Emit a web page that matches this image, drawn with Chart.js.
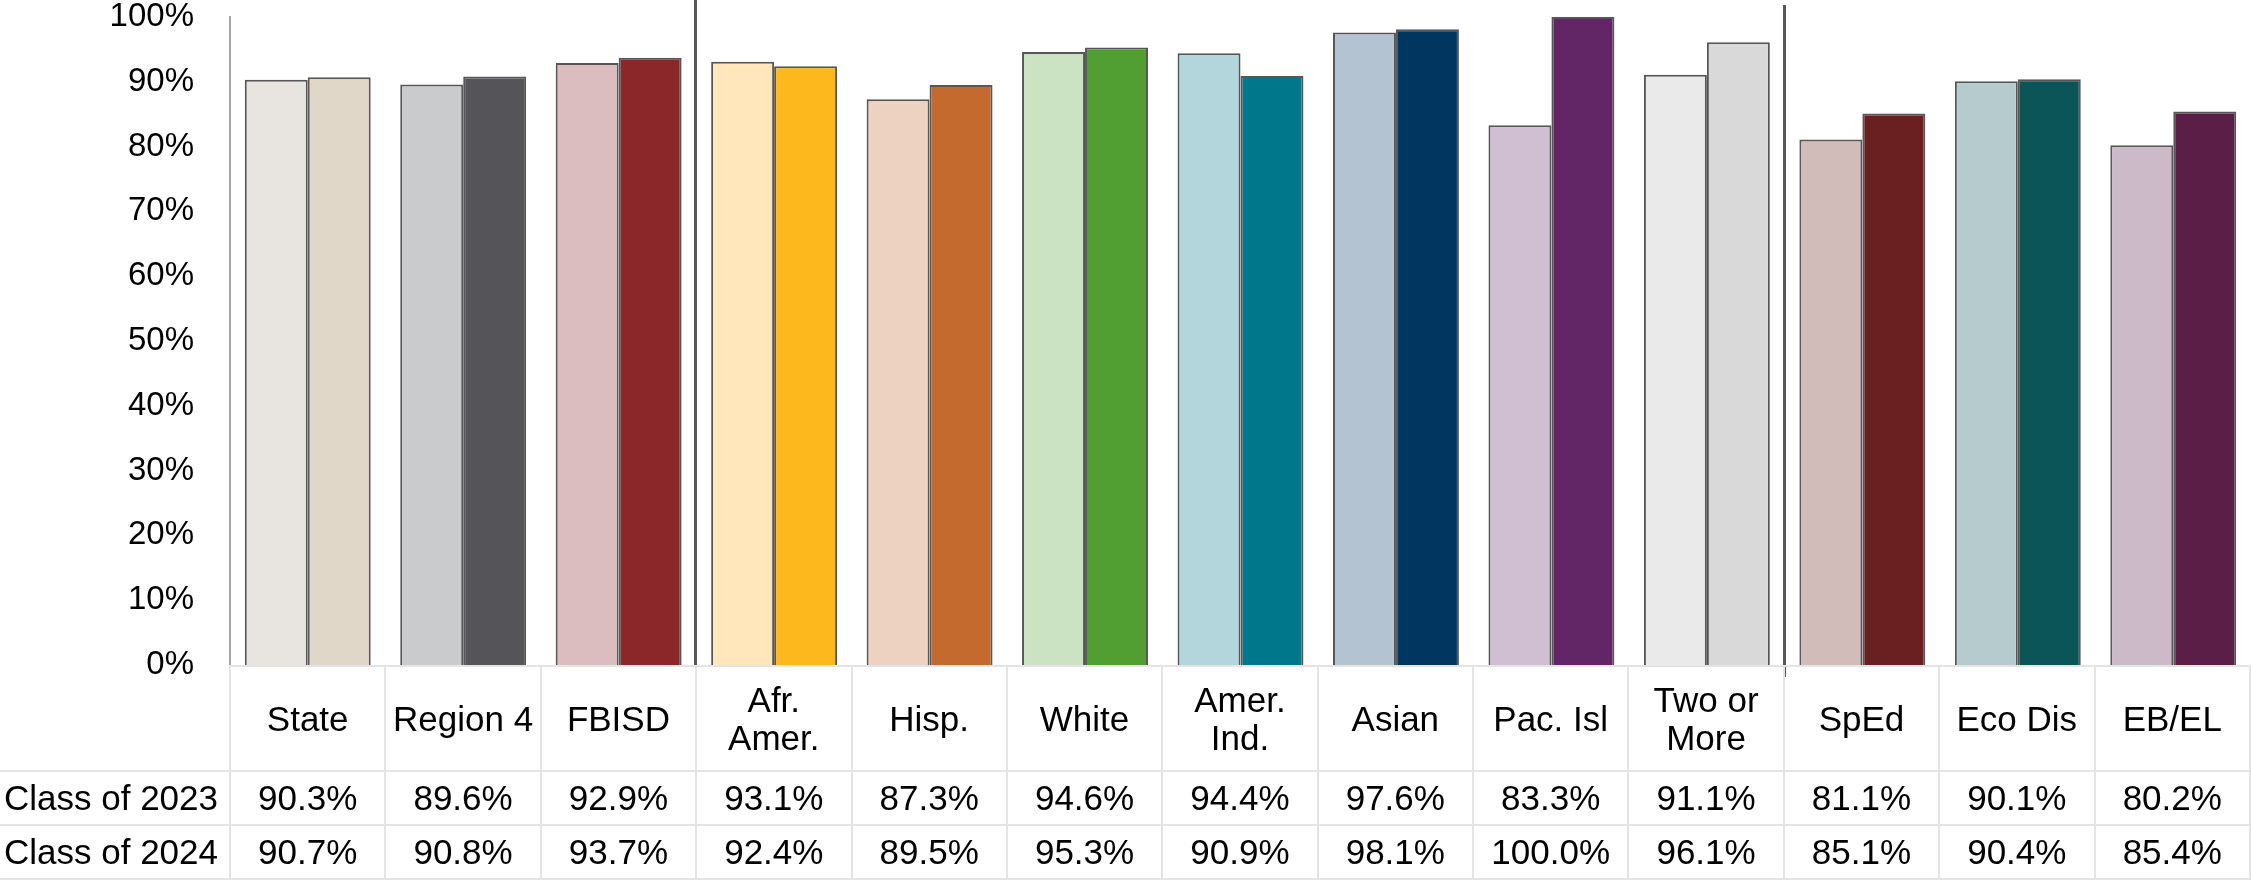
<!DOCTYPE html>
<html>
<head>
<meta charset="utf-8">
<script src="https://cdn.jsdelivr.net/npm/chart.js@4.4.1/dist/chart.umd.min.js"></script>
<style>
    html, body { margin: 0; padding: 0; background: #fff; }
    #wrap { position: relative; width: 2251px; height: 880px; overflow: hidden; }
    #sales { position: absolute; left: 0; top: 0; }
    #tbl {
        position: absolute; left: 0; top: 665px; width: 2251px;
        border-collapse: collapse; table-layout: fixed;
        font-family: 'Liberation Sans', Arial, sans-serif; font-size: 35px; color: #000;
    }
    #tbl td { border: 2px solid #e4e4e4; text-align: center; padding: 0; white-space: nowrap; line-height: 1.08; }
    #tbl tr.head td { height: 103px; }
    #tbl tr.row td { height: 52px; }
    #tbl tr.head td.corner { border-top: none; border-left: none; }
    #tbl td.lbl { text-align: left; padding-left: 4px; border-left: none; }
</style>
</head>
<body>
<div id="wrap">
    <canvas id="sales" width="2251" height="880"></canvas>
    <table id="tbl"></table>
</div>
<script>
// data
var groups = ['State', 'Region 4', 'FBISD', ['Afr.', 'Amer.'], 'Hisp.', 'White', ['Amer.', 'Ind.'], 'Asian', 'Pac. Isl', ['Two or', 'More'], 'SpEd', 'Eco Dis', 'EB/EL'];
var class2023 = [90.3, 89.6, 92.9, 93.1, 87.3, 94.6, 94.4, 97.6, 83.3, 91.1, 81.1, 90.1, 80.2];
var class2024 = [90.7, 90.8, 93.7, 92.4, 89.5, 95.3, 90.9, 98.1, 100.0, 96.1, 85.1, 90.4, 85.4];
var yTicks = [0, 10, 20, 30, 40, 50, 60, 70, 80, 90, 100];

var colors2023 = ['#e8e5e0', '#cacbcd', '#dbbdbf', '#ffe7bb', '#edd2c2', '#cbe2c3', '#b3d6dc', '#b3c3d2', '#d0bfd2', '#eaeaea', '#d2bcba', '#b6cbcd', '#cdbac8'];
var colors2024 = ['#e0d7c8', '#555459', '#8b2729', '#fdb81e', '#c46a2f', '#519e33', '#00778a', '#013660', '#622565', '#d9d9d9', '#6a1f20', '#0b5458', '#5b1e47'];

// separator lines between groups: [before index, top y, bottom y]
var separators = [[3, 0, 665], [10, 5, 677]];

var sepPlugin = {
    id: 'sepPlugin',
    afterDatasetsDraw: function(chart) {
        var x = chart.scales.x, ctx = chart.ctx;
        ctx.save();
        ctx.strokeStyle = '#58585b';
        ctx.lineWidth = 3;
        separators.forEach(function(s) {
            var px = Math.round((x.getPixelForValue(s[0] - 1) + x.getPixelForValue(s[0])) / 2) - 0.5;
            ctx.beginPath();
            ctx.moveTo(px, s[1]);
            ctx.lineTo(px, s[2]);
            ctx.stroke();
        });
        ctx.restore();
    }
};

var ctx = document.getElementById('sales').getContext('2d');
var chart = new Chart(ctx, {
    type: 'bar',
    data: {
        labels: groups.map(function(g) { return Array.isArray(g) ? g.join(' ') : g; }),
        datasets: [
            { label: 'Class of 2023', data: class2023, backgroundColor: colors2023, borderColor: '#575757', borderWidth: 2 },
            { label: 'Class of 2024', data: class2024, backgroundColor: colors2024, borderColor: '#575757', borderWidth: 2 }
        ]
    },
    options: {
        responsive: false,
        animation: false,
        devicePixelRatio: 1,
        layout: { padding: { top: 0, bottom: 215, left: 0, right: 0 } },
        plugins: { legend: { display: false }, tooltip: { enabled: false } },
        datasets: { bar: { categoryPercentage: 0.81, barPercentage: 1 } },
        scales: {
            x: { display: false },
            y: {
                min: 0, max: 100,
                afterFit: function(s) { s.width = 230; s.paddingTop = 17; s.paddingBottom = 0; },
                afterBuildTicks: function(s) { s.ticks = yTicks.map(function(v) { return { value: v }; }); },
                grid: { display: false, drawTicks: false },
                border: { display: true, color: '#a6a6a6', width: 2 },
                ticks: {
                    padding: 36,
                    color: '#000',
                    font: { family: "'Liberation Sans', Arial, sans-serif", size: 33, lineHeight: 1 },
                    callback: function(v) { return v + '%'; }
                }
            }
        }
    },
    plugins: [sepPlugin]
});

// data table under the chart
var tbl = document.getElementById('tbl');
var html = '<colgroup><col style="width:230px">';
groups.forEach(function() { html += '<col>'; });
html += '</colgroup>';
html += '<tr class="head"><td class="corner"></td>';
groups.forEach(function(g) {
    html += '<td>' + (Array.isArray(g) ? g.join('<br>') : g) + '</td>';
});
html += '</tr>';
[['Class of 2023', class2023], ['Class of 2024', class2024]].forEach(function(r) {
    html += '<tr class="row"><td class="lbl">' + r[0] + '</td>';
    r[1].forEach(function(v) { html += '<td>' + v.toFixed(1) + '%</td>'; });
    html += '</tr>';
});
tbl.innerHTML = html;
</script>
</body>
</html>
